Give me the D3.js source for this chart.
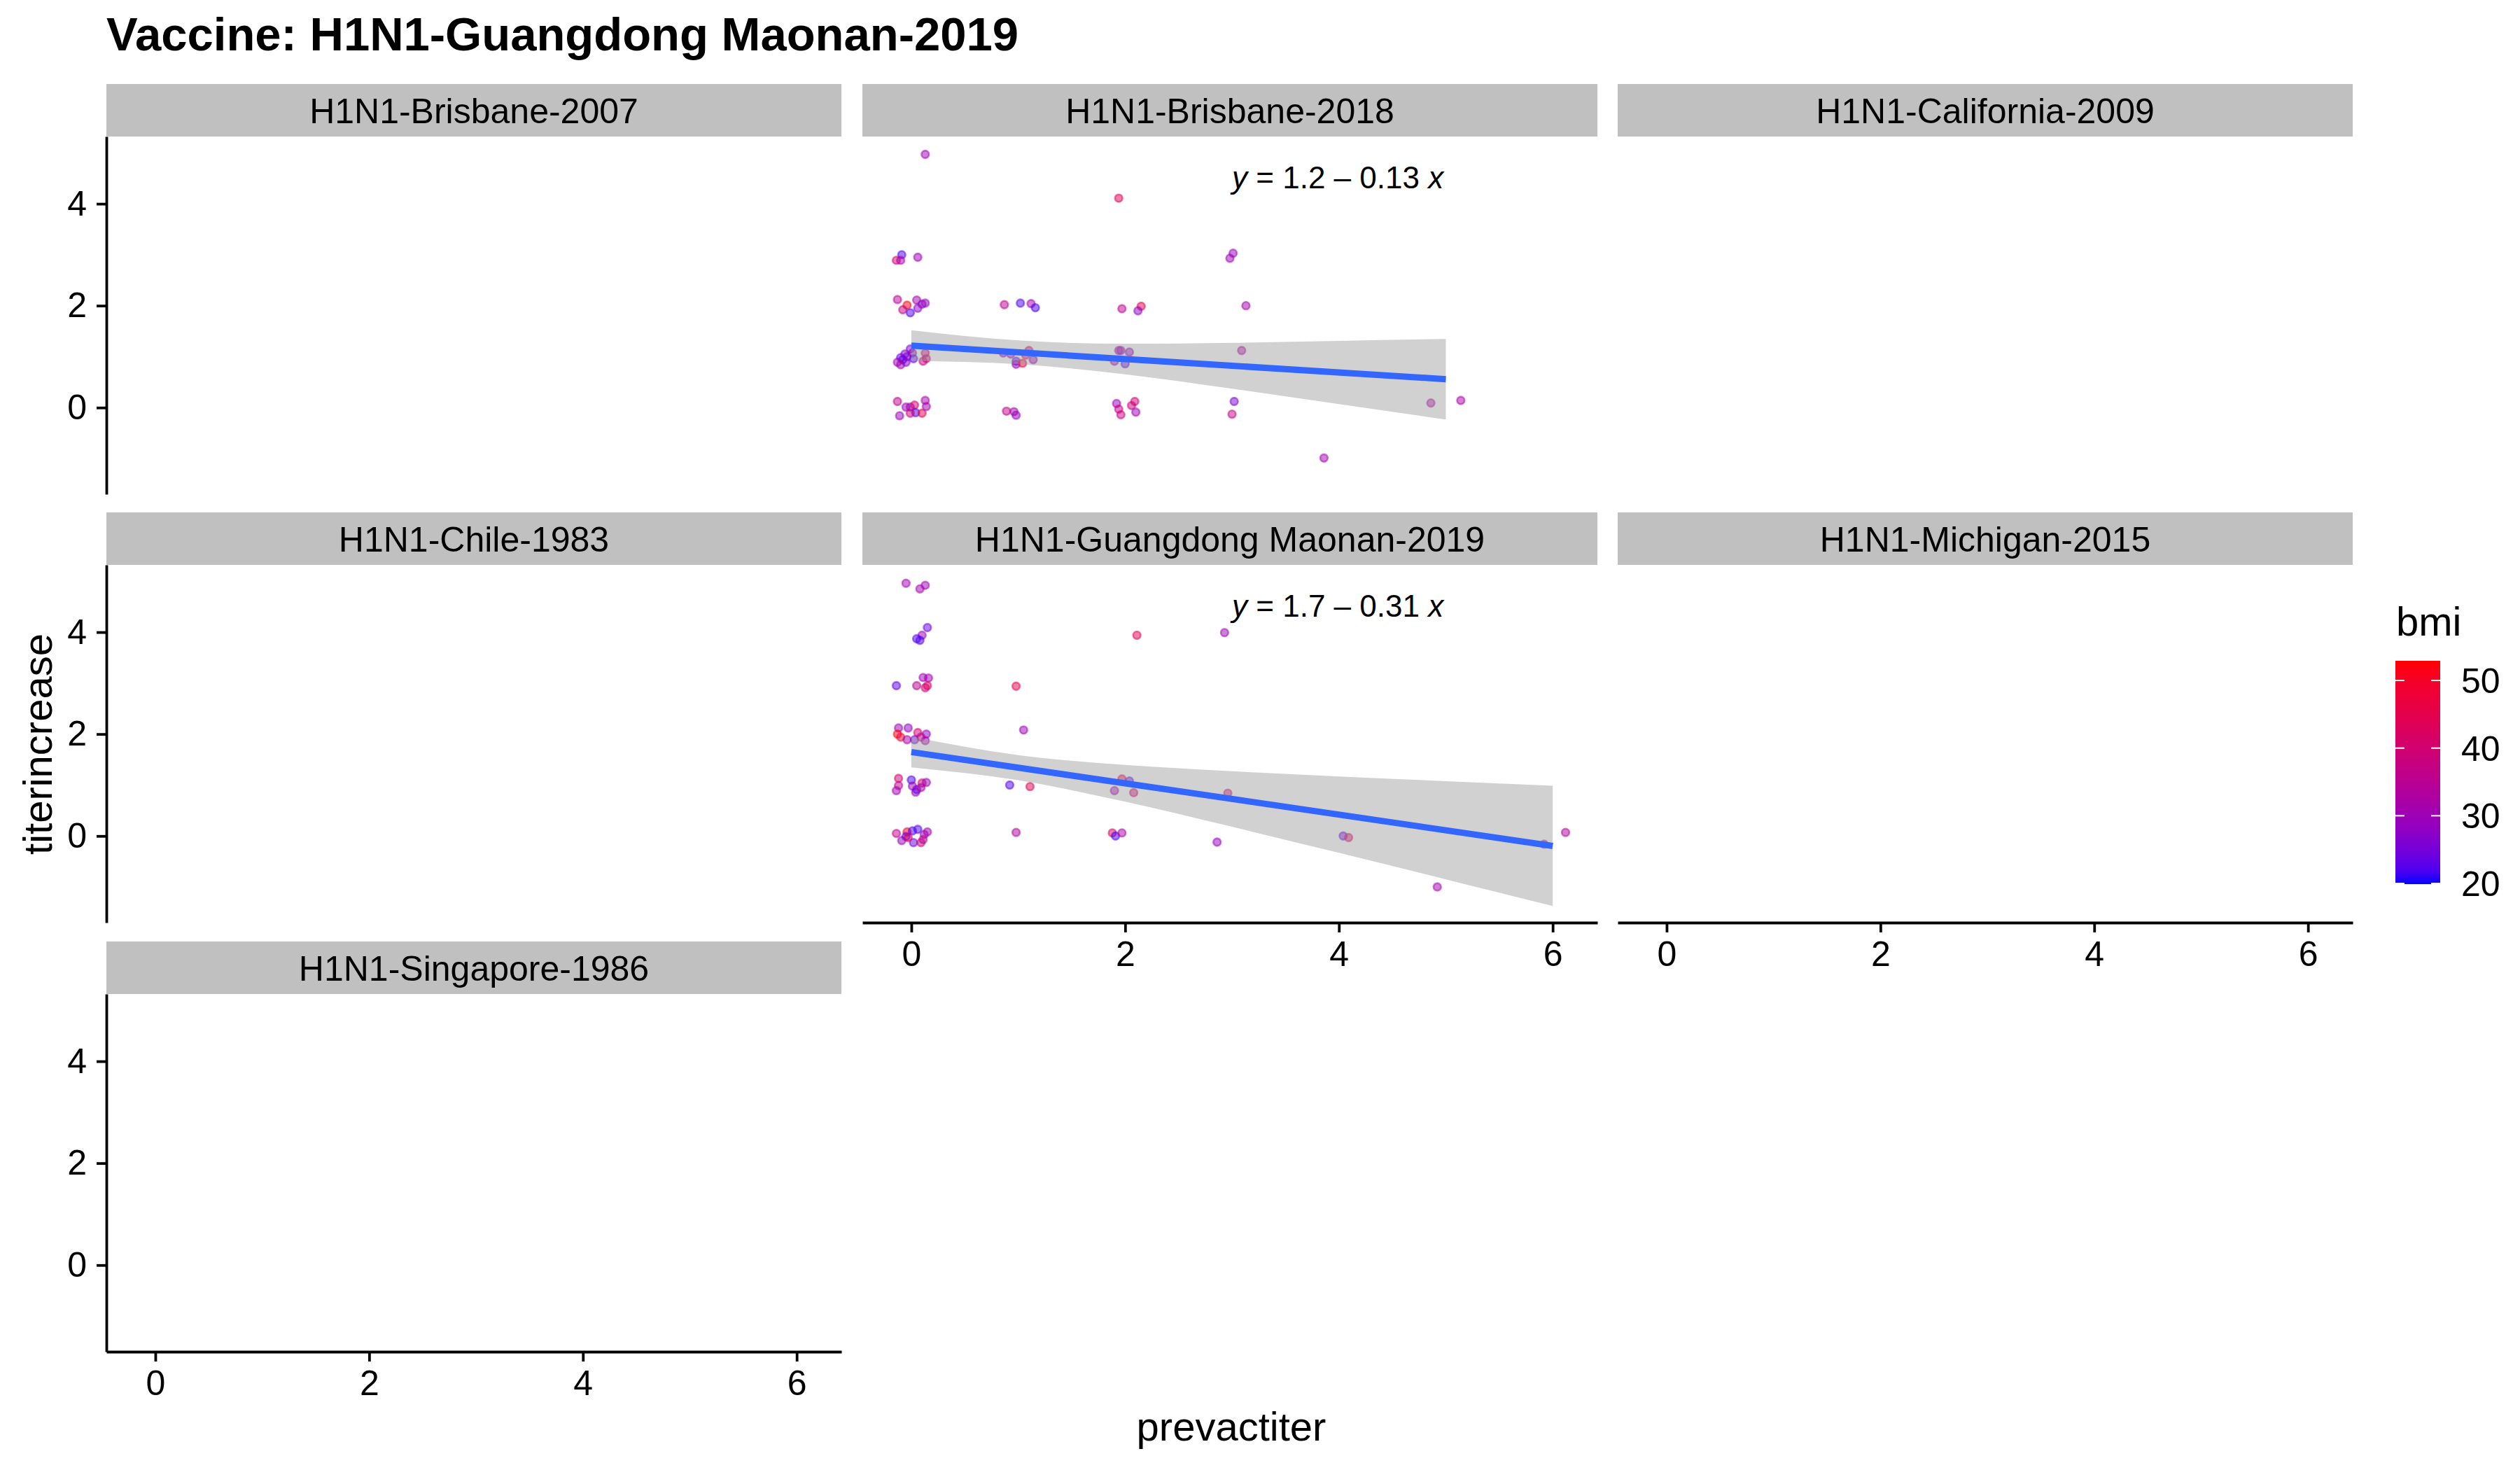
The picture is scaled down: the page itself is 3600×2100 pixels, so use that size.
<!DOCTYPE html>
<html><head><meta charset="utf-8">
<script src="https://cdn.jsdelivr.net/npm/d3@7"></script>
<style>
body{margin:0;background:#fff}
text{font-family:"Liberation Sans",Arial,Helvetica,sans-serif;fill:#000}
</style>
</head><body>
<svg id="c" width="3600" height="2100"></svg>
<script>
// ---------- data ----------
const facets = ["H1N1-Brisbane-2007","H1N1-Brisbane-2018","H1N1-California-2009",
  "H1N1-Chile-1983","H1N1-Guangdong Maonan-2019","H1N1-Michigan-2015","H1N1-Singapore-1986"];
const titleText = "Vaccine: H1N1-Guangdong Maonan-2019";
const xLabel = "prevactiter", yLabel = "titerincrease", legendTitle = "bmi";
const xTicks = [0,2,4,6];
const yTicks = [0,2,4];
const bmiTicks = [20,30,40,50];
const xDomain = [-0.458, 6.418];
const yDomain = [-1.70, 5.32];
const bmiDomain = [19.9, 52.9];

// H1N1-Brisbane-2018 (jittered positions as drawn)
const brisX = [0.13,1.94,-0.09,-0.14,-0.10,0.06,3.01,2.98,-0.13,-0.04,-0.08,-0.01,0.05,0.06,0.10,0.13,0.87,1.02,1.12,1.16,1.97,2.15,2.12,3.13,
  -0.01,-0.06,-0.10,-0.08,-0.13,-0.10,-0.05,0.01,0.02,-0.04,0.13,0.14,0.11,0.86,0.93,0.98,0.98,1.04,1.10,1.14,1.07,1.94,1.96,2.04,1.90,2.00,3.09,
  4.86,5.14,3.86,
  -0.13,-0.05,-0.11,-0.01,0.03,0.04,-0.01,0.10,0.13,0.14,0.89,0.96,0.98,1.92,1.94,1.96,2.06,2.09,2.10,3.02,3.00];
const brisY = [4.97,4.11,3.00,2.89,2.89,2.95,3.03,2.93,2.12,2.01,1.92,1.86,2.11,1.95,2.03,2.05,2.02,2.05,2.04,1.96,1.94,1.99,1.90,2.00,
  1.15,1.05,0.98,0.94,0.89,0.84,0.89,1.07,0.96,1.00,1.07,0.96,0.91,1.07,1.05,0.91,0.85,0.87,1.12,0.94,1.03,1.12,1.12,1.09,0.91,0.86,1.12,
  0.09,0.14,-0.99,
  0.12,0.01,-0.16,0.01,0.05,-0.10,-0.11,-0.11,0.14,0.02,-0.07,-0.08,-0.15,0.08,-0.03,-0.14,0.04,0.12,-0.09,0.12,-0.13];
const brisBmi = [30,44,22,40,32,30,29,30,34,52,37,22,31,28,28,29,35,22,31,22,36,45,28,31,
  27,27,25,22,30,31,27,28,23,26,38,40,37,28,30,24,29,48,40,30,42,32,30,28,31,23,33,
  33,32,31,
  36,30,29,30,40,22,38,45,32,31,37,31,29,29,38,37,38,40,30,26,37];
const brisFitX = [0,5];
const brisFitY = [1.217,0.557];
const brisBandX = [0,1,2,3,4,5];
const brisBandLo = [0.917,0.852,0.653,0.371,0.069,-0.233];
const brisBandHi = [1.517,1.318,1.253,1.271,1.309,1.347];
const brisEq = ["1.2","0.13"];

// H1N1-Guangdong Maonan-2019
const gdX = [-0.05,0.08,0.13,0.15,0.10,0.05,0.08,2.11,2.93,
  -0.14,0.11,0.16,0.05,0.13,0.15,0.98,
  -0.12,-0.13,-0.10,-0.03,-0.04,0.06,0.03,0.14,0.13,0.09,1.05,
  -0.12,-0.12,-0.14,0.00,0.01,0.04,0.05,0.10,0.14,0.09,0.92,1.11,1.97,2.04,1.90,2.08,2.96,
  -0.14,-0.09,-0.04,-0.05,0.01,0.06,0.02,0.09,0.12,0.15,0.11,-0.03,0.98,1.88,1.91,1.97,2.86,4.04,4.09,4.92,5.92,6.12];
const gdY = [4.96,4.85,4.92,4.09,3.94,3.87,3.84,3.94,3.99,
  2.95,3.11,3.10,2.95,2.91,2.95,2.94,
  2.12,2.00,1.94,2.12,1.89,2.03,1.89,2.00,1.87,1.94,2.08,
  1.13,0.99,0.89,1.10,0.98,0.86,0.91,1.04,1.05,0.95,1.00,0.97,1.12,1.08,0.89,0.85,0.84,
  0.05,-0.09,0.08,-0.01,0.10,0.13,-0.13,-0.13,0.03,0.08,-0.07,-0.03,0.07,0.06,0.00,0.06,-0.12,0.00,-0.03,-1.00,-0.16,0.07];
const gdBmi = [30,31,30,24,30,22,22,44,30,
  23,30,31,35,40,42,45,
  30,52,48,28,32,40,25,28,30,36,30,
  40,36,31,22,30,29,24,40,30,32,22,44,45,23,30,40,40,
  36,30,50,23,22,22,24,38,30,31,35,42,33,42,22,32,29,24,42,31,40,33];
const gdFitX = [0,6];
const gdFitY = [1.647,-0.195];
const gdBandX = [0,1,2,3,4,5,6];
const gdBandLo = [1.347,1.094,0.673,0.181,-0.331,-0.851,-1.375];
const gdBandHi = [1.947,1.586,1.393,1.271,1.169,1.075,0.985];
const gdEq = ["1.7","0.31"];

const eqPos = [3, 4.3];

// ---------- layout ----------
const colLeft = [152, 1232, 2311];
const panelW = 1050;
const stripTop = [120, 732, 1345];
const stripH = 75, panelH = 511;

const svg = d3.select("#c");
svg.append("rect").attr("width",3600).attr("height",2100).attr("fill","#fff");

const color = d3.scaleLinear().domain(bmiDomain).range(["#0000FF","#FF0000"]).interpolate(d3.interpolateLab);

svg.append("text").attr("x",152).attr("y",72)
  .attr("font-size",67).attr("font-weight","bold").text(titleText);

const panelData = {
  "H1N1-Brisbane-2018": {x:brisX,y:brisY,bmi:brisBmi,fitX:brisFitX,fitY:brisFitY,bx:brisBandX,lo:brisBandLo,hi:brisBandHi,eq:brisEq},
  "H1N1-Guangdong Maonan-2019": {x:gdX,y:gdY,bmi:gdBmi,fitX:gdFitX,fitY:gdFitY,bx:gdBandX,lo:gdBandLo,hi:gdBandHi,eq:gdEq}
};

facets.forEach((name,i)=>{
  const row = Math.floor(i/3), col = i%3;
  const left = colLeft[col], sTop = stripTop[row], pTop = sTop + stripH;
  const x = d3.scaleLinear().domain(xDomain).range([left, left+panelW]);
  const y = d3.scaleLinear().domain(yDomain).range([pTop+panelH, pTop]);
  const g = svg.append("g");

  // strip
  g.append("rect").attr("x",left).attr("y",sTop).attr("width",panelW).attr("height",stripH).attr("fill","#C0C0C0");
  g.append("text").attr("x",left+panelW/2).attr("y",sTop+stripH/2).attr("dy","0.36em")
    .attr("text-anchor","middle").attr("font-size",50).attr("fill","#1a1a1a").text(name);

  const d = panelData[name];
  if(d){
    const pts = d.x.map((v,k)=>({x:v,y:d.y[k],b:d.bmi[k]}));
    g.append("g").selectAll("circle").data(pts).join("circle")
      .attr("cx",p=>x(p.x)).attr("cy",p=>y(p.y)).attr("r",5.4)
      .attr("fill",p=>color(p.b)).attr("fill-opacity",0.5)
      .attr("stroke",p=>color(p.b)).attr("stroke-opacity",0.5).attr("stroke-width",2.6);
    const band = d.bx.map((v,k)=>({x:v,lo:d.lo[k],hi:d.hi[k]}));
    g.append("path").datum(band)
      .attr("d",d3.area().x(p=>x(p.x)).y0(p=>y(p.lo)).y1(p=>y(p.hi)).curve(d3.curveMonotoneX))
      .attr("fill","#999999").attr("fill-opacity",0.45);
    const fit = d.fitX.map((v,k)=>({x:v,y:d.fitY[k]}));
    g.append("path").datum(fit)
      .attr("d",d3.line().x(p=>x(p.x)).y(p=>y(p.y)))
      .attr("fill","none").attr("stroke","#3366FF").attr("stroke-width",9);
    const t = g.append("text").attr("x",x(eqPos[0])).attr("y",y(eqPos[1])).attr("font-size",44);
    t.append("tspan").attr("font-style","italic").text("y");
    t.append("tspan").text(" = "+d.eq[0]+" \u2013 "+d.eq[1]+" ");
    t.append("tspan").attr("font-style","italic").text("x");
  }

  if(col===0){
    const ax = g.append("g").attr("transform",`translate(${left},0)`)
      .call(d3.axisLeft(y).tickValues(yTicks).tickFormat(d3.format("d")).tickSize(14).tickSizeOuter(0).tickPadding(14));
    ax.select(".domain").attr("stroke","#000").attr("stroke-width",3.8);
    ax.selectAll(".tick line").attr("stroke","#000").attr("stroke-width",3.8);
    ax.selectAll(".tick text").attr("font-size",50).attr("fill","#000")
      .style("font-family","'Liberation Sans',Arial,Helvetica,sans-serif");
  }
  if(i+3 >= facets.length){
    const ax = g.append("g").attr("transform",`translate(0,${pTop+panelH})`)
      .call(d3.axisBottom(x).tickValues(xTicks).tickFormat(d3.format("d")).tickSize(14).tickSizeOuter(0).tickPadding(12));
    ax.select(".domain").attr("stroke","#000").attr("stroke-width",3.8);
    ax.selectAll(".tick line").attr("stroke","#000").attr("stroke-width",3.8);
    ax.selectAll(".tick text").attr("font-size",50).attr("fill","#000")
      .style("font-family","'Liberation Sans',Arial,Helvetica,sans-serif");
  }
});

// axis titles
svg.append("text").attr("x",1759).attr("y",2058).attr("text-anchor","middle").attr("font-size",58).text(xLabel);
svg.append("text").attr("transform","translate(74,1063) rotate(-90)").attr("text-anchor","middle").attr("font-size",58).text(yLabel);

// legend
const lg = svg.append("g");
lg.append("text").attr("x",3423).attr("y",908).attr("font-size",58).text(legendTitle);
const barX = 3422, barW = 64, barTop = 944, barBot = 1263;
const ly = d3.scaleLinear().domain(bmiDomain).range([barBot, barTop]);
const defs = svg.append("defs");
const grad = defs.append("linearGradient").attr("id","bmiGrad").attr("x1",0).attr("x2",0).attr("y1",1).attr("y2",0);
d3.range(0,1.0001,0.05).forEach(t=>{
  grad.append("stop").attr("offset",t).attr("stop-color",color(bmiDomain[0]+t*(bmiDomain[1]-bmiDomain[0])));
});
lg.append("rect").attr("x",barX).attr("y",barTop).attr("width",barW).attr("height",barBot-barTop).attr("fill","url(#bmiGrad)");
bmiTicks.forEach(v=>{
  lg.append("line").attr("x1",barX).attr("x2",barX+13).attr("y1",ly(v)).attr("y2",ly(v)).attr("stroke","#fff").attr("stroke-width",2);
  lg.append("line").attr("x1",barX+barW-13).attr("x2",barX+barW).attr("y1",ly(v)).attr("y2",ly(v)).attr("stroke","#fff").attr("stroke-width",2);
  lg.append("text").attr("x",3516).attr("y",ly(v)).attr("dy","0.36em").attr("font-size",50).text(v);
});
</script>
</body></html>
